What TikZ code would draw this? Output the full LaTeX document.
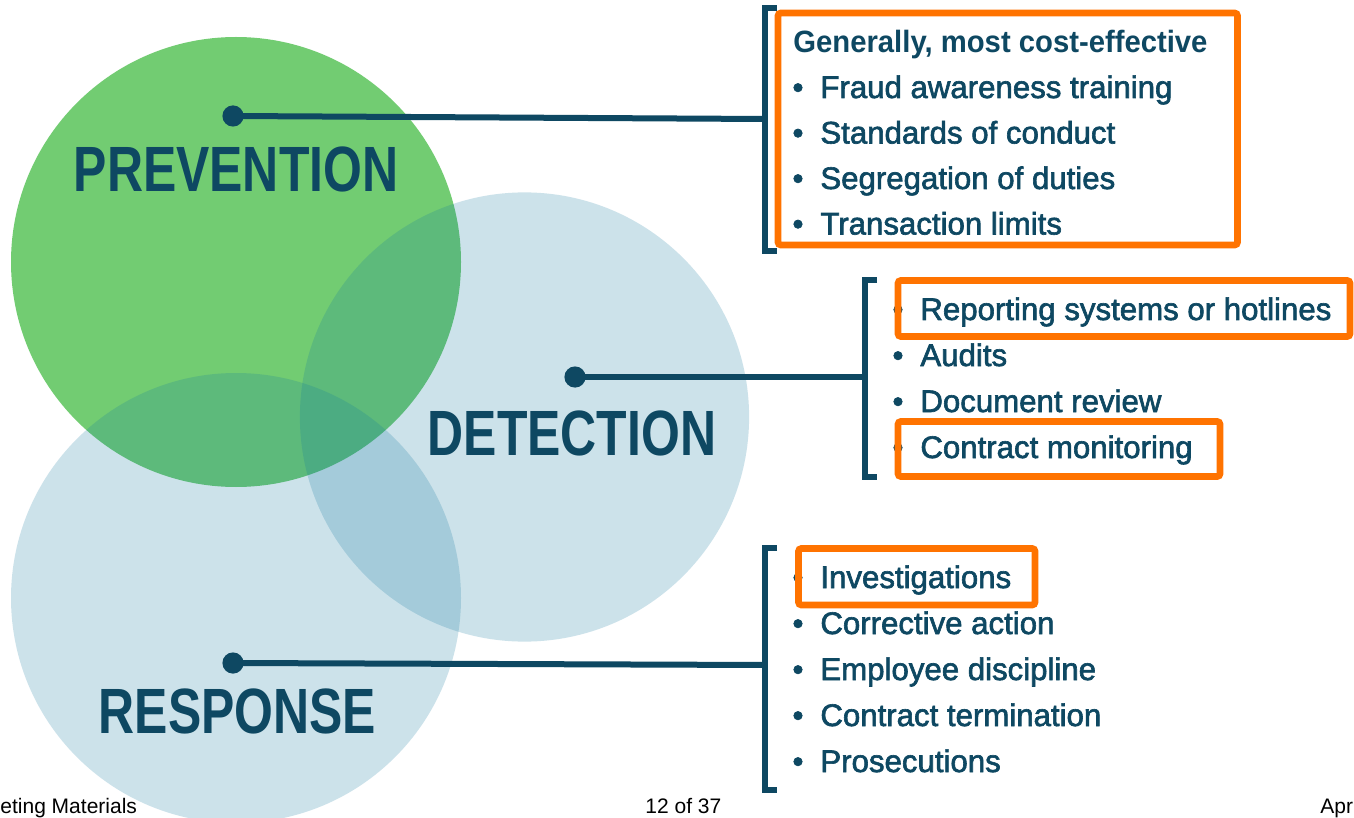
\documentclass[tikz,border=0pt]{standalone}
\usepackage{fontspec}
\setmainfont{Liberation Sans}
% condensed bold for the three circle titles
\newfontfamily\titlefont{Liberation Sans}[UprightFont=* Bold, FakeStretch=0.78]
% list entries, heavier than regular
\newfontfamily\entryfont{Liberation Sans}[FakeBold=2]
\newfontfamily\leadfont{Liberation Sans}[UprightFont=* Bold, FakeStretch=0.95]

\definecolor{inkteal}{HTML}{0E4862}
\definecolor{prevgreen}{RGB}{114,204,114}
\definecolor{detblue}{RGB}{17,121,160}
\definecolor{hlorange}{HTML}{FF7300}

\tikzset{
  titletext/.style={inner sep=0pt, text=inkteal, font=\titlefont\fontsize{32}{36}\selectfont, anchor=base},
  entrytext/.style={inner sep=0pt, text=inkteal, font=\entryfont\fontsize{15.6}{18}\selectfont, anchor=base west},
  leadtext/.style={inner sep=0pt, text=inkteal, font=\leadfont\fontsize{15.4}{18}\selectfont, anchor=base west},
  bulletmark/.style={inner sep=0pt, text=inkteal, font=\entryfont\fontsize{15.6}{18}\selectfont, anchor=base},
  connector/.style={draw=inkteal, line width=3pt},
  dotmark/.style={fill=inkteal},
  bracket/.style={draw=inkteal, line width=3.3pt, line join=miter},
  highlight/.style={draw=hlorange, line width=3.4pt, rounded corners=1.5pt},
  foottext/.style={inner sep=0pt, text=black, font=\fontsize{10.5}{12}\selectfont, anchor=base west},
}

\begin{document}
\begin{tikzpicture}[x=0.5pt, y=-0.5pt]
\useasboundingbox (0,0) rectangle (1354,818);
\fill[white] (0,0) rectangle (1354,818);

% the three overlapping circles
\fill[prevgreen] (236,262) circle[radius=112.5pt];
\fill[detblue, fill opacity=0.21] (524.5,417) circle[radius=112.3pt];
\fill[detblue, fill opacity=0.21] (236,598) circle[radius=112.5pt];

% brackets grouping each list
\draw[bracket] (777,8) -- (765,8) -- (765,251) -- (777,251);
\draw[bracket] (877,280) -- (865,280) -- (865,477) -- (877,477);
\draw[bracket] (777,548) -- (765,548) -- (765,790) -- (777,790);

% connectors from the circles to the brackets
\coordinate (pdot) at (233,116);
\coordinate (pbrk) at (765,119);
\coordinate (ddot) at (575,377);
\coordinate (dbrk) at (865,377);
\coordinate (rdot) at (233,663);
\coordinate (rbrk) at (765,665);
\draw[connector] (pdot) -- (pbrk);
\draw[connector] (ddot) -- (dbrk);
\draw[connector] (rdot) -- (rbrk);
\fill[dotmark] (pdot) circle[radius=5.3pt];
\fill[dotmark] (ddot) circle[radius=5.3pt];
\fill[dotmark] (rdot) circle[radius=5.3pt];

% circle titles
\node[titletext] (prevtitle) at (236,192) {PREVENTION};
\node[titletext] (dettitle) at (572,455) {DETECTION};
\node[titletext] (restitle) at (237.5,733) {RESPONSE};

% prevention list
\node[leadtext] (plead) at (793,53) {Generally, most cost-effective};
\node[bulletmark] (pb1) at (798,98) {•};
\node[entrytext] (p1) at (820,98) {Fraud awareness training};
\node[bulletmark] (pb2) at (798,143.5) {•};
\node[entrytext] (p2) at (820,143.5) {Standards of conduct};
\node[bulletmark] (pb3) at (798,189) {•};
\node[entrytext] (p3) at (820,189) {Segregation of duties};
\node[bulletmark] (pb4) at (798,234.5) {•};
\node[entrytext] (p4) at (820,234.5) {Transaction limits};

% detection list
\node[bulletmark] (db1) at (898,320) {•};
\node[entrytext] (d1) at (920,320) {Reporting systems or hotlines};
\node[bulletmark] (db2) at (898,366) {•};
\node[entrytext] (d2) at (920,366) {Audits};
\node[bulletmark] (db3) at (898,412) {•};
\node[entrytext] (d3) at (920,412) {Document review};
\node[bulletmark] (db4) at (898,458) {•};
\node[entrytext] (d4) at (920,458) {Contract monitoring};

% response list
\node[bulletmark] (rb1) at (798,588) {•};
\node[entrytext] (r1) at (820,588) {Investigations};
\node[bulletmark] (rb2) at (798,634) {•};
\node[entrytext] (r2) at (820,634) {Corrective action};
\node[bulletmark] (rb3) at (798,680) {•};
\node[entrytext] (r3) at (820,680) {Employee discipline};
\node[bulletmark] (rb4) at (798,726) {•};
\node[entrytext] (r4) at (820,726) {Contract termination};
\node[bulletmark] (rb5) at (798,772) {•};
\node[entrytext] (r5) at (820,772) {Prosecutions};

% orange highlight frames
\draw[highlight] (778,13) rectangle (1237.5,245);
\draw[highlight] (898,280.5) rectangle (1350,336.5);
\draw[highlight] (898,421.5) rectangle (1220,476.5);
\draw[highlight] (798.5,548.5) rectangle (1035,605);

% page footer
\node[foottext] (footl) at (0,813) {eting Materials};
\node[foottext] (footc) at (645,813) {12 of 37};
\node[foottext] (footr) at (1320,813) {Apr};
\end{tikzpicture}
\end{document}
